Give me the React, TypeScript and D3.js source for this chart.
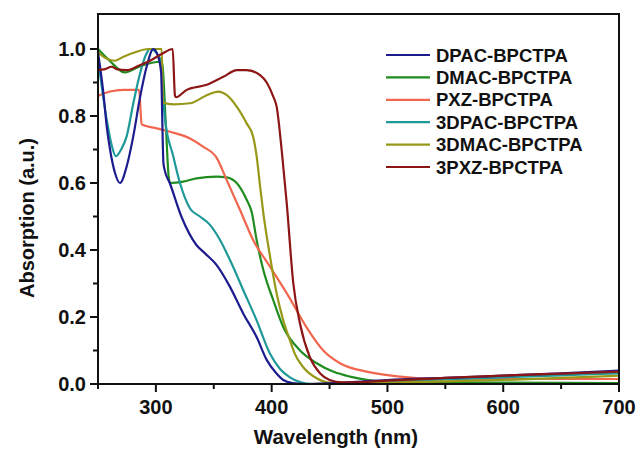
import React from "react";
import * as d3 from "d3";

const seriesNames = ["DPAC-BPCTPA", "DMAC-BPCTPA", "PXZ-BPCTPA", "3DPAC-BPCTPA", "3DMAC-BPCTPA", "3PXZ-BPCTPA"];
const seriesColors = ["#1c1c8e", "#1f8c1f", "#f0664e", "#1f9898", "#989818", "#8c1616"];

const dpac: [number, number][] = [[250,0.99],[254.6,0.87],[257.5,0.77],[260.4,0.70],[264.7,0.63],[269,0.60],[274.8,0.65],[280.5,0.74],[286,0.85],[292,0.947],[297.8,1.0],[302,0.977],[304.5,0.93],[306.5,0.66],[307.5,0.64],[312,0.60],[322,0.50],[335,0.415],[342.4,0.39],[352.5,0.355],[364,0.29],[375.5,0.21],[387,0.14],[395.7,0.072],[404,0.032],[410,0.012],[418,0.003],[430,0],[450,0.002],[480,0.008],[500,0.012],[550,0.018],[600,0.025],[650,0.032],[700,0.04]];
const dmac: [number, number][] = [[250,1.0],[260,0.965],[273.3,0.93],[286,0.948],[303.5,0.962],[305.5,0.955],[308.5,0.78],[311,0.62],[312.2,0.60],[323.7,0.604],[335,0.614],[352.5,0.619],[361,0.617],[369.8,0.60],[378.4,0.55],[382.7,0.514],[387,0.43],[392.8,0.34],[401.4,0.25],[410,0.17],[424.5,0.10],[438.9,0.062],[453,0.037],[467.6,0.022],[496,0.008],[550,0.005],[600,0.004],[700,0.003]];
const pxz: [number, number][] = [[250,0.86],[260.4,0.873],[272,0.878],[285.5,0.878],[287.7,0.775],[300.7,0.763],[312.2,0.753],[329.5,0.733],[341,0.708],[352.5,0.675],[361,0.61],[372.6,0.52],[384,0.43],[398.6,0.35],[415.8,0.255],[430,0.17],[444.6,0.10],[459,0.062],[482,0.037],[510.8,0.022],[539,0.016],[600,0.015],[650,0.015],[700,0.015]];
const dpac3: [number, number][] = [[250,0.97],[257.5,0.79],[262,0.71],[265.5,0.68],[270,0.70],[274.8,0.74],[280.5,0.838],[286.3,0.927],[292,0.987],[294.9,1.0],[300.7,0.987],[305,0.957],[306.5,0.85],[307.9,0.79],[315,0.68],[320.8,0.60],[329.5,0.524],[338,0.50],[346.7,0.475],[355.4,0.43],[364,0.37],[375.5,0.28],[387,0.19],[398.6,0.09],[407.2,0.045],[415.8,0.02],[425,0.005],[435,0.0],[470,0.004],[500,0.008],[550,0.014],[600,0.02],[650,0.026],[700,0.032]];
const dmac3: [number, number][] = [[250,0.99],[258,0.97],[264.7,0.965],[272,0.977],[283.4,0.992],[293.4,1.0],[305,1.0],[306.2,0.84],[315,0.835],[329.5,0.838],[343.9,0.862],[354,0.873],[361,0.863],[369.8,0.828],[378.4,0.778],[384,0.738],[387,0.68],[390,0.59],[392.8,0.51],[398.6,0.38],[404.3,0.27],[410,0.19],[415.8,0.13],[420,0.09],[427.3,0.05],[438.9,0.017],[450,0.004],[480,0.003],[550,0.008],[600,0.012],[650,0.018],[700,0.025]];
const pxz3: [number, number][] = [[250,0.937],[256,0.94],[261.8,0.947],[266,0.94],[274.8,0.937],[285,0.95],[295,0.965],[305,0.985],[314.5,1.0],[316.5,0.86],[317.4,0.856],[326.6,0.878],[343.9,0.893],[358.2,0.917],[370,0.937],[378.4,0.937],[390,0.922],[395.7,0.90],[401.4,0.858],[404.3,0.828],[408.6,0.70],[413,0.54],[418.7,0.30],[424.5,0.18],[433,0.08],[441.7,0.032],[450,0.012],[461,0.005],[480,0.006],[500,0.01],[550,0.018],[600,0.025],[650,0.031],[700,0.037]];

const seriesData = [dpac, dmac, pxz, dpac3, dmac3, pxz3];

const xMajorTicks = [300, 400, 500, 600, 700];
const xMinorTicks = [250, 350, 450, 550, 650];
const yMajorTicks = [0, 0.2, 0.4, 0.6, 0.8, 1.0];
const yMinorTicks = [0.1, 0.3, 0.5, 0.7, 0.9];

export default function App() {
  const left = 98, right = 619, top = 14, bottom = 384;
  const x = d3.scaleLinear().domain([250, 700]).range([left, right]);
  const y = d3.scaleLinear().domain([0, 1]).range([bottom, 49]);
  const line = d3.line<[number, number]>().x(d => x(d[0])).y(d => y(d[1])).curve(d3.curveMonotoneX);
  const font = "'Liberation Sans', Arial, sans-serif";
  const order = [1, 2, 3, 4, 0, 5];
  return (
    <svg width={640} height={450} style={{ position: "absolute", left: 0, top: 0, background: "#fff" }} fontFamily={font}>
      <defs>
        <clipPath id="plot"><rect x={left} y={top} width={right - left} height={bottom - top} /></clipPath>
      </defs>
      <g clipPath="url(#plot)">
        {order.map(i => (
          <path key={i} d={line(seriesData[i]) || ""} fill="none" stroke={seriesColors[i]} strokeWidth={2.2} strokeLinejoin="round" />
        ))}
      </g>
      <rect x={left} y={top} width={right - left} height={bottom - top} fill="none" stroke="#111" strokeWidth={2} />
      {xMajorTicks.map(t => (
        <g key={"xm" + t}>
          <line x1={x(t)} x2={x(t)} y1={bottom} y2={bottom + 8} stroke="#111" strokeWidth={2} />
          <text x={x(t)} y={414} textAnchor="middle" fontSize={20} fontWeight="bold" fill="#111">{t}</text>
        </g>
      ))}
      {xMinorTicks.map(t => (
        <line key={"xn" + t} x1={x(t)} x2={x(t)} y1={bottom} y2={bottom + 5} stroke="#111" strokeWidth={2} />
      ))}
      {yMajorTicks.map(t => (
        <g key={"ym" + t}>
          <line x1={left - 8} x2={left} y1={y(t)} y2={y(t)} stroke="#111" strokeWidth={2} />
          <text x={86} y={y(t)} dy="0.36em" textAnchor="end" fontSize={20} fontWeight="bold" fill="#111">{t.toFixed(1)}</text>
        </g>
      ))}
      {yMinorTicks.map(t => (
        <line key={"yn" + t} x1={left - 5} x2={left} y1={y(t)} y2={y(t)} stroke="#111" strokeWidth={2} />
      ))}
      <text x={336} y={444} textAnchor="middle" fontSize={20.5} fontWeight="bold" fill="#111">Wavelength (nm)</text>
      <text transform="translate(34,218) rotate(-90)" textAnchor="middle" fontSize={20} fontWeight="bold" fill="#111">Absorption (a.u.)</text>
      {seriesNames.map((n, i) => (
        <g key={n} transform={`translate(0,${55 + i * 22.4})`}>
          <line x1={386} x2={430} y1={0} y2={0} stroke={seriesColors[i]} strokeWidth={2.2} />
          <text x={436} y={0} dy="0.36em" fontSize={18.5} fontWeight="bold" fill="#111">{n}</text>
        </g>
      ))}
    </svg>
  );
}
